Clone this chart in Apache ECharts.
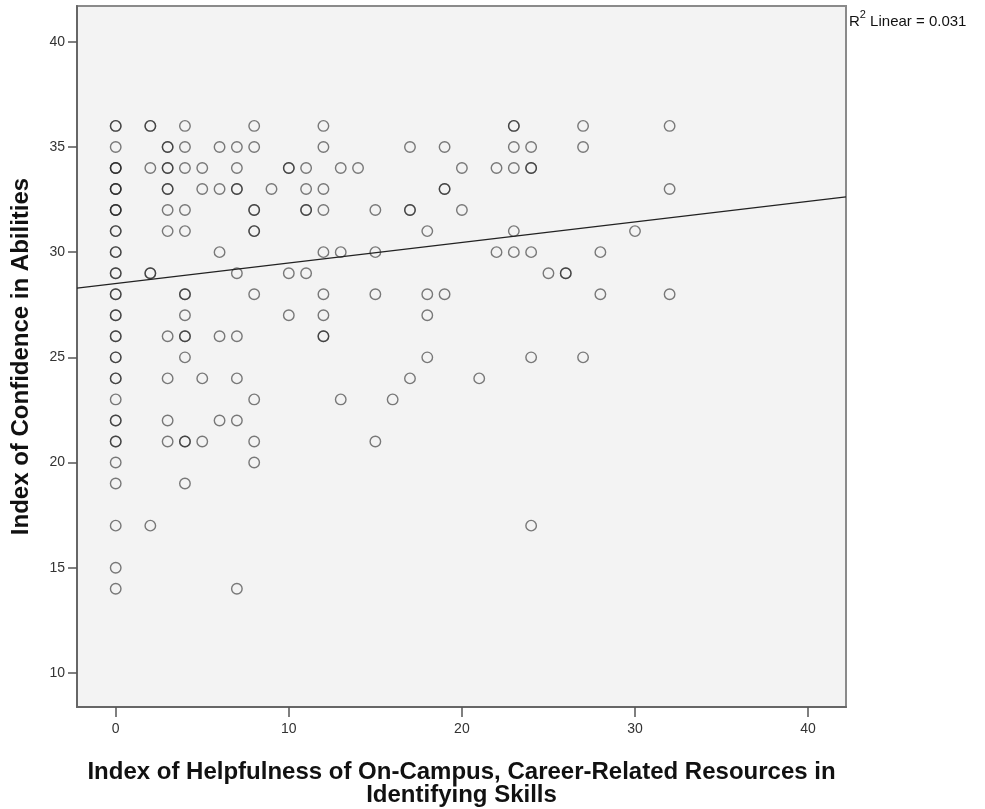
<!DOCTYPE html>
<html>
<head>
<meta charset="utf-8">
<title>Confidence vs Helpfulness</title>
<script src="https://cdn.jsdelivr.net/npm/echarts@6/dist/echarts.min.js"></script>
<style>
  html, body { margin: 0; padding: 0; background: #fff; }
  #chart { width: 985px; height: 809px; }
</style>
</head>
<body>
<div id="chart"></div>
<script>
// helpfulness index values (x) and the confidence values seen at each x
// repeated values = overlapping cases (drawn darker)
const helpX = [0, 2, 3, 4, 5, 6, 7, 8, 9, 10, 11, 12, 13, 14, 15, 16, 17, 18, 19, 20, 21, 22, 23, 24, 25, 26, 27, 28, 30, 32];
const confidenceY = [
    [36, 36, 35, 34, 34, 34, 33, 33, 33, 32, 32, 32, 31, 31, 30, 30, 29, 29, 28, 28, 27, 27, 26, 26, 25, 25, 24, 24, 23, 22, 22, 21, 21, 20, 19, 17, 15, 14],
    [36, 36, 34, 29, 29, 17],
    [35, 35, 34, 34, 33, 33, 32, 31, 26, 24, 22, 21],
    [36, 35, 34, 32, 31, 28, 28, 27, 26, 26, 25, 21, 21, 19],
    [34, 33, 24, 21],
    [35, 33, 30, 26, 22],
    [35, 34, 33, 33, 29, 26, 24, 22, 14],
    [36, 35, 32, 32, 31, 31, 28, 23, 21, 20],
    [33],
    [34, 34, 29, 27],
    [34, 33, 32, 32, 29],
    [36, 35, 33, 32, 30, 28, 27, 26, 26],
    [34, 30, 23],
    [34],
    [32, 30, 28, 21],
    [23],
    [35, 32, 32, 24],
    [31, 28, 27, 25],
    [35, 33, 33, 28],
    [34, 32],
    [24],
    [34, 30],
    [36, 36, 35, 34, 31, 30],
    [35, 34, 34, 30, 25, 17],
    [29],
    [29, 29],
    [36, 35, 25],
    [30, 28],
    [31],
    [36, 33, 28]
];
const xTicks = [0, 10, 20, 30, 40];
const yTicks = [10, 15, 20, 25, 30, 35, 40];

// linear fit, R^2 = 0.031
const fitIntercept = 28.51;
const fitSlope = 0.0975;
const rSquared = 0.031;

const xMin = -2.236, xMax = 42.19;
const yMin = 8.38, yMax = 41.70;

const points = [];
helpX.forEach((x, i) => {
    confidenceY[i].forEach(y => points.push([x, y]));
});
const fitLine = [
    [xMin, fitIntercept + fitSlope * xMin],
    [xMax, fitIntercept + fitSlope * xMax]
];

const chart = echarts.init(document.getElementById('chart'));
const labelFont = 'Liberation Sans, Arial, sans-serif';

const option = {
    animation: false,
    backgroundColor: '#ffffff',
    grid: {
        left: 77,
        top: 6,
        width: 769,
        height: 701,
        outerBoundsMode: 'none',
        show: true,
        backgroundColor: '#f3f3f3',
        borderColor: '#8a8a8a',
        borderWidth: 2
    },
    xAxis: {
        type: 'value',
        min: xMin,
        max: xMax,
        name: 'Index of Helpfulness of On-Campus, Career-Related Resources in\nIdentifying Skills',
        nameLocation: 'middle',
        nameGap: 54,
        nameTextStyle: {
            fontFamily: labelFont,
            fontSize: 24,
            fontWeight: 'bold',
            color: '#111',
            lineHeight: 23
        },
        axisLine: { onZero: false, lineStyle: { color: '#666', width: 2 } },
        axisTick: { show: true, length: 10, customValues: xTicks, lineStyle: { color: '#555', width: 1.5 } },
        axisLabel: { customValues: xTicks, margin: 15, fontFamily: labelFont, fontSize: 14, color: '#333' },
        splitLine: { show: false }
    },
    yAxis: {
        type: 'value',
        min: yMin,
        max: yMax,
        name: 'Index of Confidence in Abilities',
        nameLocation: 'middle',
        nameGap: 44,
        nameRotate: 90,
        nameTextStyle: {
            fontFamily: labelFont,
            fontSize: 24,
            fontWeight: 'bold',
            color: '#111'
        },
        axisLine: { show: true, onZero: false, lineStyle: { color: '#666', width: 2 } },
        axisTick: { show: true, length: 9, customValues: yTicks, lineStyle: { color: '#555', width: 1.5 } },
        axisLabel: { customValues: yTicks, margin: 12, fontFamily: labelFont, fontSize: 14, color: '#333' },
        splitLine: { show: false }
    },
    series: [
        {
            type: 'scatter',
            data: points,
            symbol: 'circle',
            symbolSize: 10.5,
            itemStyle: {
                color: 'rgba(0,0,0,0)',
                borderColor: 'rgba(30,30,30,0.72)',
                borderWidth: 1.4
            },
            silent: true
        },
        {
            type: 'line',
            data: fitLine,
            symbol: 'none',
            lineStyle: { color: '#222', width: 1.2 },
            silent: true
        }
    ],
    graphic: [
        {
            type: 'text',
            left: 849,
            top: 9,
            style: {
                text: '{r|R}{s|2}{r| Linear = ' + rSquared.toFixed(3) + '}',
                rich: {
                    r: { fontSize: 15, fontFamily: labelFont, fill: '#111', lineHeight: 20, verticalAlign: 'bottom' },
                    s: { fontSize: 11, fontFamily: labelFont, fill: '#111', lineHeight: 20, verticalAlign: 'top' }
                }
            }
        }
    ]
};

chart.setOption(option);
</script>
</body>
</html>
